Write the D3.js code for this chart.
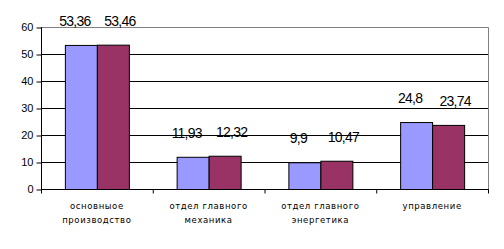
<!DOCTYPE html>
<html>
<head>
<meta charset="utf-8">
<script src="https://cdn.jsdelivr.net/npm/d3@7"></script>
<style>
  body { margin: 0; background: #fff; }
  svg { display: block; }
</style>
</head>
<body>
<svg id="chart"></svg>
<script>
const categories = [
  ["основныое", "производство"],
  ["отдел главного", "механика"],
  ["отдел главного", "энергетика"],
  ["управление"]
];
const seriesA = [53.36, 11.93, 9.9, 24.8];
const seriesB = [53.46, 12.32, 10.47, 23.74];
const yTicks = [0, 10, 20, 30, 40, 50, 60];

const width = 504, height = 249;
const plotL = 41, plotR = 488, plotT = 27, plotB = 189;

const svg = d3.select("#chart").attr("width", width).attr("height", height);

const x = d3.scaleBand().domain(d3.range(categories.length)).range([plotL, plotR]).padding(0);
const y = d3.scaleLinear().domain([0, 60]).range([plotB, plotT]);
const barW = 32;

// gridlines
svg.append("g")
  .selectAll("line")
  .data(yTicks.filter(d => d > 0 && d < 60))
  .enter().append("line")
  .attr("x1", plotL).attr("x2", plotR)
  .attr("y1", d => y(d) + 0.5).attr("y2", d => y(d) + 0.5)
  .attr("stroke", "#000");

// plot border (top/right grey)
svg.append("path")
  .attr("d", `M${plotL},${plotT + 0.5}H${plotR + 0.5}V${plotB}`)
  .attr("fill", "none").attr("stroke", "#808080");

// bars
const groups = [
  { vals: seriesA, color: "#9999FF", off: -barW, dx: -6 },
  { vals: seriesB, color: "#993366", off: 0, dx: 7 }
];
groups.forEach(s => {
  svg.append("g")
    .selectAll("rect")
    .data(s.vals)
    .enter().append("rect")
    .attr("x", (d, i) => x(i) + x.bandwidth() / 2 + s.off + 0.5)
    .attr("y", d => y(d) + 0.5)
    .attr("width", barW)
    .attr("height", d => plotB - y(d))
    .attr("fill", s.color)
    .attr("stroke", "#000");

  svg.append("g")
    .selectAll("text")
    .data(s.vals)
    .enter().append("text")
    .attr("x", (d, i) => x(i) + x.bandwidth() / 2 + s.off + barW / 2 + s.dx)
    .attr("y", d => y(d) - 19)
    .attr("text-anchor", "middle")
    .attr("font-family", "Liberation Sans, Arial, sans-serif")
    .attr("font-size", 14)
    .attr("letter-spacing", -0.8)
    .text(d => String(d).replace(".", ","));
});

// y axis
const yAxis = svg.append("g")
  .attr("transform", `translate(${plotL + 0.5},0)`)
  .call(d3.axisLeft(y).tickValues(yTicks).tickSize(5).tickPadding(3));
yAxis.select(".domain").attr("d", `M0,${plotT}V${plotB + 0.5}`);
yAxis.selectAll(".tick line").attr("transform", "translate(0,0.5)");
yAxis.selectAll("text")
  .attr("font-family", "Liberation Sans, Arial, sans-serif")
  .attr("font-size", 11).attr("fill", "#000");

// x axis
const xAxis = svg.append("g").attr("transform", `translate(0,${plotB + 0.5})`);
xAxis.append("line").attr("x1", plotL).attr("x2", plotR + 1).attr("stroke", "#000");
xAxis.selectAll(".xt")
  .data(d3.range(categories.length + 1))
  .enter().append("line")
  .attr("x1", i => (i < categories.length ? x(i) : plotR) + 0.5)
  .attr("x2", i => (i < categories.length ? x(i) : plotR) + 0.5)
  .attr("y1", 0).attr("y2", 4)
  .attr("stroke", "#000");

const cat = svg.append("g")
  .selectAll("text")
  .data(categories)
  .enter().append("text")
  .attr("text-anchor", "middle")
  .attr("font-family", "DejaVu Sans, sans-serif")
  .attr("font-size", 8.5)
  .attr("letter-spacing", 0.6)
  .attr("fill", "#000");
cat.each(function(lines, i) {
  d3.select(this).selectAll("tspan")
    .data(lines)
    .enter().append("tspan")
    .attr("x", x(i) + x.bandwidth() / 2)
    .attr("y", (d, j) => 208.5 + j * 14.5)
    .text(d => d);
});
</script>
</body>
</html>
